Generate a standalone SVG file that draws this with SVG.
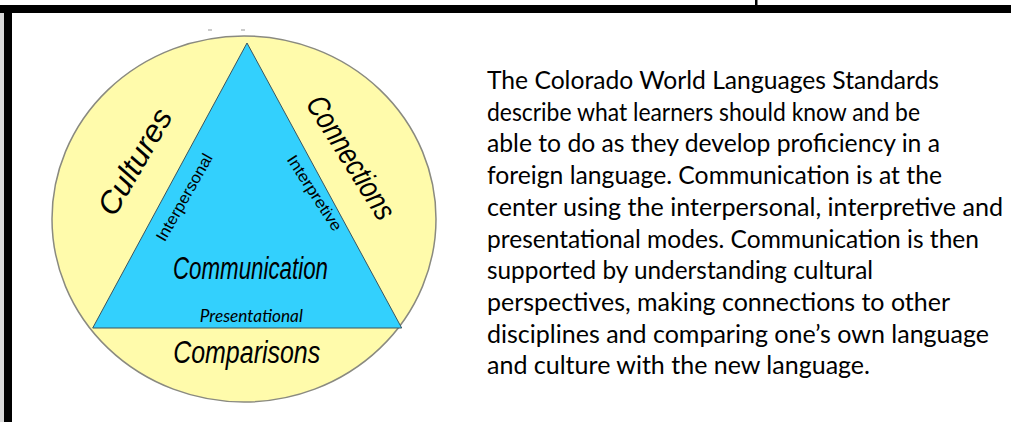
<svg xmlns="http://www.w3.org/2000/svg" width="1011" height="422" viewBox="0 0 1011 422">
<style>
.big{font-family:"Liberation Sans",Arial,sans-serif;font-style:italic;font-size:31px;fill:#000;text-anchor:middle}
.mode{font-family:"Liberation Sans",Arial,sans-serif;font-size:16px;fill:#000;text-anchor:middle}
.pres{font-family:Lato,"Liberation Sans",sans-serif;font-style:italic;font-size:18px;fill:#000;text-anchor:middle}
.para{font-family:Lato,"Liberation Sans",sans-serif;font-size:25px;fill:#000}
</style>
<rect x="0" y="0" width="1011" height="422" fill="#fff"/>
<g id="frame">
<rect x="0" y="13" width="4" height="409" fill="#d9d9d9"/>
<rect x="0" y="5" width="1011" height="8" fill="#000"/>
<rect x="4" y="5" width="8" height="417" fill="#000"/>
<rect x="755" y="0" width="2.5" height="6" fill="#000"/>
</g>
<g id="marks" stroke="#999" stroke-width="1">
<line x1="208" y1="30" x2="212" y2="30"/>
<line x1="241" y1="30" x2="245" y2="30"/>
</g>
<g id="circle">
<ellipse cx="244" cy="219" rx="192" ry="183" fill="#fffbab" stroke="#8a8a80" stroke-width="1.5"/>
</g>
<g id="triangle">
<polygon points="247,43 92.7,328 401.7,328" fill="#33d0fd" stroke="#3a5560" stroke-width="1"/>
</g>
<g id="labels">
<text class="big" transform="translate(144,167) rotate(-60)" font-size="32" textLength="118" lengthAdjust="spacingAndGlyphs">Cultures</text>
<text class="big" transform="translate(342,163) rotate(58)" textLength="140" lengthAdjust="spacingAndGlyphs">Connections</text>
<text class="mode" transform="translate(189,200) rotate(-60.4)" textLength="98" lengthAdjust="spacingAndGlyphs">Interpersonal</text>
<text class="mode" transform="translate(310,196) rotate(57)" textLength="87" lengthAdjust="spacingAndGlyphs">Interpretive</text>
<text class="big" x="250.5" y="279" font-size="30" textLength="155" lengthAdjust="spacingAndGlyphs">Communication</text>
<text class="pres" x="251.3" y="322" textLength="103" lengthAdjust="spacingAndGlyphs">Presentational</text>
<text class="big" x="246.7" y="363" font-size="30" textLength="147" lengthAdjust="spacingAndGlyphs">Comparisons</text>
</g>
<g id="paragraph">
<text class="para" x="487" y="89" textLength="452" lengthAdjust="spacingAndGlyphs">The Colorado World Languages Standards</text>
<text class="para" x="487" y="120.7" textLength="433" lengthAdjust="spacingAndGlyphs">describe what learners should know and be</text>
<text class="para" x="487" y="152.4" textLength="453" lengthAdjust="spacingAndGlyphs">able to do as they develop proficiency in a</text>
<text class="para" x="487" y="184.1" textLength="455" lengthAdjust="spacingAndGlyphs">foreign language. Communication is at the</text>
<text class="para" x="487" y="215.8" textLength="516" lengthAdjust="spacingAndGlyphs">center using the interpersonal, interpretive and</text>
<text class="para" x="487" y="247.5" textLength="492" lengthAdjust="spacingAndGlyphs">presentational modes. Communication is then</text>
<text class="para" x="487" y="279.2" textLength="386" lengthAdjust="spacingAndGlyphs">supported by understanding cultural</text>
<text class="para" x="487" y="310.9" textLength="463" lengthAdjust="spacingAndGlyphs">perspectives, making connections to other</text>
<text class="para" x="487" y="342.6" textLength="502" lengthAdjust="spacingAndGlyphs">disciplines and comparing one’s own language</text>
<text class="para" x="487" y="374.3" textLength="383" lengthAdjust="spacingAndGlyphs">and culture with the new language.</text>
</g>
</svg>
